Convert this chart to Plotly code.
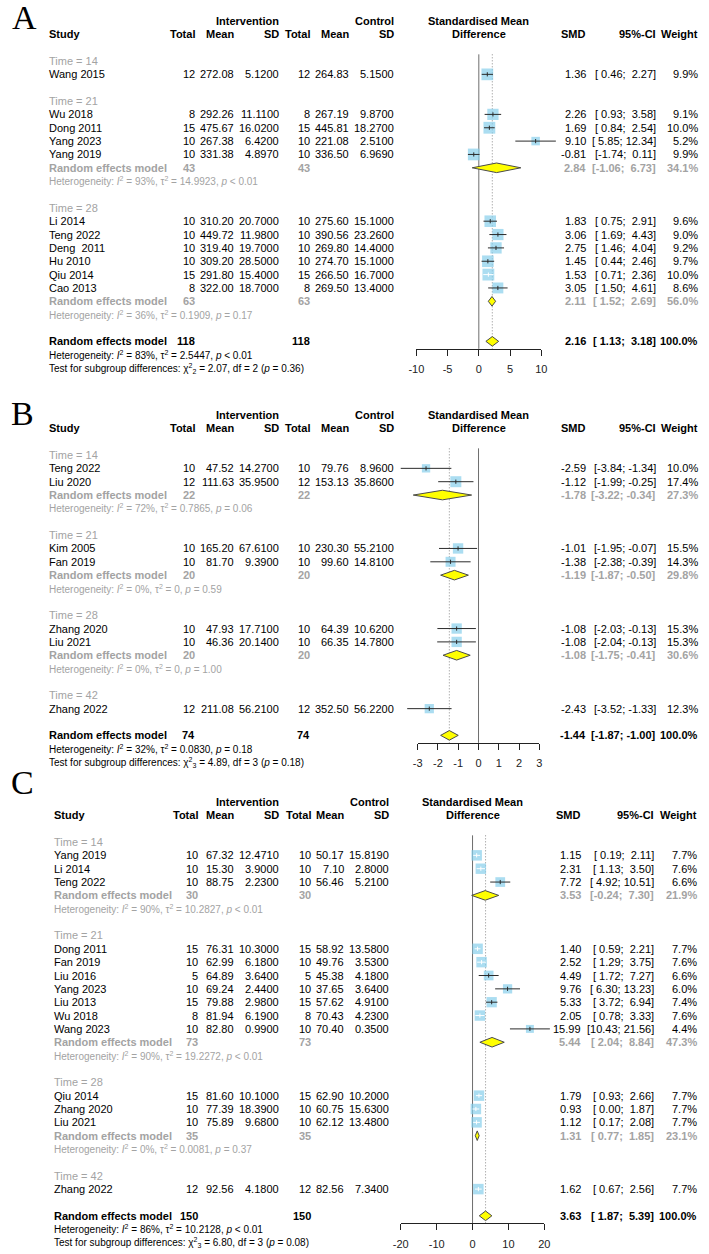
import math
import plotly.graph_objects as go

W, H = 709, 1254

# ---------------- Panel A ----------------
A_groups = ["Time = 14", "Time = 21", "Time = 28"]
A_study = ["Wang 2015", "Wu 2018", "Dong 2011", "Yang 2023", "Yang 2019",
           "Li 2014", "Teng 2022", "Deng  2011", "Hu 2010", "Qiu 2014", "Cao 2013"]
A_group = [0, 1, 1, 1, 1, 2, 2, 2, 2, 2, 2]
A_n_e = [12, 8, 15, 10, 10, 10, 10, 10, 10, 15, 8]
A_mean_e = [272.08, 292.26, 475.67, 267.38, 331.38, 310.20, 449.72, 319.40, 309.20, 291.80, 322.00]
A_sd_e = [5.12, 11.11, 16.02, 6.42, 4.897, 20.70, 11.98, 19.70, 28.50, 15.40, 18.70]
A_n_c = [12, 8, 15, 10, 10, 10, 10, 10, 10, 15, 8]
A_mean_c = [264.83, 267.19, 445.81, 221.08, 336.50, 275.60, 390.56, 269.80, 274.70, 266.50, 269.50]
A_sd_c = [5.15, 9.87, 18.27, 2.51, 6.969, 15.10, 23.26, 14.40, 15.10, 16.70, 13.40]
A_smd = [1.36, 2.26, 1.69, 9.10, -0.81, 1.83, 3.06, 2.75, 1.45, 1.53, 3.05]
A_lo = [0.46, 0.93, 0.84, 5.85, -1.74, 0.75, 1.69, 1.46, 0.44, 0.71, 1.50]
A_hi = [2.27, 3.58, 2.54, 12.34, 0.11, 2.91, 4.43, 4.04, 2.46, 2.36, 4.61]
A_w = [9.9, 9.1, 10.0, 5.2, 9.9, 9.6, 9.0, 9.2, 9.7, 10.0, 8.6]
A_sub_n = [None, 43, 63]
A_sub_smd = [None, 2.84, 2.11]
A_sub_lo = [None, -1.06, 1.52]
A_sub_hi = [None, 6.73, 2.69]
A_sub_w = [None, 34.1, 56.0]
A_sub_i2 = [None, 93, 36]
A_sub_tau2 = [None, "14.9923", "0.1909"]
A_sub_p = [None, "< 0.01", "= 0.17"]
A_tot_n = 118
A_tot_est = [2.16, 1.13, 3.18]
A_tot_het = [83, "2.5447", "< 0.01"]
A_test = ["2", "2.07", "2", "0.36"]
A_ticks = [-10, -5, 0, 5, 10]

# ---------------- Panel B ----------------
B_groups = ["Time = 14", "Time = 21", "Time = 28", "Time = 42"]
B_study = ["Teng 2022", "Liu 2020", "Kim 2005", "Fan 2019", "Zhang 2020", "Liu 2021", "Zhang 2022"]
B_group = [0, 0, 1, 1, 2, 2, 3]
B_n_e = [10, 12, 10, 10, 10, 10, 12]
B_mean_e = [47.52, 111.63, 165.20, 81.70, 47.93, 46.36, 211.08]
B_sd_e = [14.27, 35.95, 67.61, 9.39, 17.71, 20.14, 56.21]
B_n_c = [10, 12, 10, 10, 10, 10, 12]
B_mean_c = [79.76, 153.13, 230.30, 99.60, 64.39, 66.35, 352.50]
B_sd_c = [8.96, 35.86, 55.21, 14.81, 10.62, 14.78, 56.22]
B_smd = [-2.59, -1.12, -1.01, -1.38, -1.08, -1.08, -2.43]
B_lo = [-3.84, -1.99, -1.95, -2.38, -2.03, -2.04, -3.52]
B_hi = [-1.34, -0.25, -0.07, -0.39, -0.13, -0.13, -1.33]
B_w = [10.0, 17.4, 15.5, 14.3, 15.3, 15.3, 12.3]
B_sub_n = [22, 20, 20, None]
B_sub_smd = [-1.78, -1.19, -1.08, None]
B_sub_lo = [-3.22, -1.87, -1.75, None]
B_sub_hi = [-0.34, -0.50, -0.41, None]
B_sub_w = [27.3, 29.8, 30.6, None]
B_sub_i2 = [72, 0, 0, None]
B_sub_tau2 = ["0.7865", "0", "0", None]
B_sub_p = ["= 0.06", "= 0.59", "= 1.00", None]
B_tot_n = 74
B_tot_est = [-1.44, -1.87, -1.00]
B_tot_het = [32, "0.0830", "= 0.18"]
B_test = ["3", "4.89", "3", "0.18"]
B_ticks = [-3, -2, -1, 0, 1, 2, 3]

# ---------------- Panel C ----------------
C_groups = ["Time = 14", "Time = 21", "Time = 28", "Time = 42"]
C_study = ["Yang 2019", "Li 2014", "Teng 2022",
           "Dong 2011", "Fan 2019", "Liu 2016", "Yang 2023", "Liu 2013", "Wu 2018", "Wang 2023",
           "Qiu 2014", "Zhang 2020", "Liu 2021", "Zhang 2022"]
C_group = [0, 0, 0, 1, 1, 1, 1, 1, 1, 1, 2, 2, 2, 3]
C_n_e = [10, 10, 10, 15, 10, 5, 10, 15, 8, 10, 15, 10, 10, 12]
C_mean_e = [67.32, 15.30, 88.75, 76.31, 62.99, 64.89, 69.24, 79.88, 81.94, 82.80, 81.60, 77.39, 75.89, 92.56]
C_sd_e = [12.471, 3.90, 2.23, 10.30, 6.18, 3.64, 2.44, 2.98, 6.19, 0.99, 10.10, 18.39, 9.68, 4.18]
C_n_c = [10, 10, 10, 15, 10, 5, 10, 15, 8, 10, 15, 10, 10, 12]
C_mean_c = [50.17, 7.10, 56.46, 58.92, 49.76, 45.38, 37.65, 57.62, 70.43, 70.40, 62.90, 60.75, 62.12, 82.56]
C_sd_c = [15.819, 2.80, 5.21, 13.58, 3.53, 4.18, 3.64, 4.91, 4.23, 0.35, 10.20, 15.63, 13.48, 7.34]
C_smd = [1.15, 2.31, 7.72, 1.40, 2.52, 4.49, 9.76, 5.33, 2.05, 15.99, 1.79, 0.93, 1.12, 1.62]
C_lo = [0.19, 1.13, 4.92, 0.59, 1.29, 1.72, 6.30, 3.72, 0.78, 10.43, 0.93, 0.00, 0.17, 0.67]
C_hi = [2.11, 3.50, 10.51, 2.21, 3.75, 7.27, 13.23, 6.94, 3.33, 21.56, 2.66, 1.87, 2.08, 2.56]
C_w = [7.7, 7.6, 6.6, 7.7, 7.6, 6.6, 6.0, 7.4, 7.6, 4.4, 7.7, 7.7, 7.7, 7.7]
C_sub_n = [30, 73, 35, None]
C_sub_smd = [3.53, 5.44, 1.31, None]
C_sub_lo = [-0.24, 2.04, 0.77, None]
C_sub_hi = [7.30, 8.84, 1.85, None]
C_sub_w = [21.9, 47.3, 23.1, None]
C_sub_i2 = [90, 90, 0, None]
C_sub_tau2 = ["10.2827", "19.2272", "0.0081", None]
C_sub_p = ["< 0.01", "< 0.01", "= 0.37", None]
C_tot_n = 150
C_tot_est = [3.63, 1.87, 5.39]
C_tot_het = [86, "10.2128", "< 0.01"]
C_test = ["3", "6.80", "3", "0.08"]
C_ticks = [-20, -10, 0, 10, 20]

# ---------------- style ----------------
SANS = "Liberation Sans, Arial, sans-serif"
SERIF = "Liberation Serif, Times New Roman, serif"
GRAY = "#A3A3A3"
SQ_COL = "#87CEEB"
DIA_COL = "#FFFF00"
LINE_COL = "#2b2b2b"
SP = 13.35
FS = 11
FS_SMALL = 10

COLS_AB = dict(study=40.7, ne=192, me=232, se=277, nc=309.5, mc=349, sc=395,
               smd=590.5, ci=662, w=704.5)
COLS_C = dict(study=46, ne=195, me=231.5, se=277, nc=310, mc=343.5, sc=389.5,
              smd=586, ci=660.5, w=703.5)

panels = [
    dict(letter="A", lx=17, ly=17, r0=61, cols=COLS_AB, center=480.3, scale=6.37, sqmax=11.8,
         groups=A_groups, study=A_study, group=A_group, n_e=A_n_e, mean_e=A_mean_e, sd_e=A_sd_e,
         n_c=A_n_c, mean_c=A_mean_c, sd_c=A_sd_c, smd=A_smd, lo=A_lo, hi=A_hi, w=A_w,
         sub_n=A_sub_n, sub_smd=A_sub_smd, sub_lo=A_sub_lo, sub_hi=A_sub_hi, sub_w=A_sub_w,
         sub_i2=A_sub_i2, sub_tau2=A_sub_tau2, sub_p=A_sub_p, tot_n=A_tot_n, tot_est=A_tot_est,
         tot_het=A_tot_het, test=A_test, ticks=A_ticks),
    dict(letter="B", lx=15, ly=413, r0=455, cols=COLS_AB, center=480.0, scale=20.67, sqmax=11.0,
         groups=B_groups, study=B_study, group=B_group, n_e=B_n_e, mean_e=B_mean_e, sd_e=B_sd_e,
         n_c=B_n_c, mean_c=B_mean_c, sd_c=B_sd_c, smd=B_smd, lo=B_lo, hi=B_hi, w=B_w,
         sub_n=B_sub_n, sub_smd=B_sub_smd, sub_lo=B_sub_lo, sub_hi=B_sub_hi, sub_w=B_sub_w,
         sub_i2=B_sub_i2, sub_tau2=B_sub_tau2, sub_p=B_sub_p, tot_n=B_tot_n, tot_est=B_tot_est,
         tot_het=B_tot_het, test=B_test, ticks=B_ticks),
    dict(letter="C", lx=15, ly=782, r0=842, cols=COLS_C, center=473.9, scale=3.66, sqmax=10.5,
         groups=C_groups, study=C_study, group=C_group, n_e=C_n_e, mean_e=C_mean_e, sd_e=C_sd_e,
         n_c=C_n_c, mean_c=C_mean_c, sd_c=C_sd_c, smd=C_smd, lo=C_lo, hi=C_hi, w=C_w,
         sub_n=C_sub_n, sub_smd=C_sub_smd, sub_lo=C_sub_lo, sub_hi=C_sub_hi, sub_w=C_sub_w,
         sub_i2=C_sub_i2, sub_tau2=C_sub_tau2, sub_p=C_sub_p, tot_n=C_tot_n, tot_est=C_tot_est,
         tot_het=C_tot_het, test=C_test, ticks=C_ticks),
]

fig = go.Figure()
annotations = []


def esc(s):
    return s.replace("<", "&lt;")


def ann(x, y, text, anchor="right", size=FS, color="black", bold=False, family=SANS):
    if bold:
        text = "<b>" + text + "</b>"
    annotations.append(dict(x=x / W, xref="paper", y=y, yref="y", text=text, showarrow=False,
                            xanchor=anchor, align=anchor, yanchor="middle", borderpad=0,
                            font=dict(size=size, color=color, family=family)))


def het_text(i2, tau2, p):
    return ("Heterogeneity: <i>I</i><sup>2</sup> = %d%%, τ<sup>2</sup> = %s, <i>p</i> %s"
            % (i2, tau2, esc(p)))


def ci_text(lo, hi):
    return "[%5.2f; %5.2f]" % (lo, hi)


layout_axes = {}

for pi, P in enumerate(panels):
    c = P["cols"]
    xd = "x" if pi == 0 else "x%d" % (pi + 1)
    xdisp = "x%d" % (pi + 4)
    center, scale = P["center"], P["scale"]
    r0 = P["r0"]

    def ry(i):
        return r0 + SP * i

    ann(P["lx"], P["ly"], P["letter"], anchor="center", size=34, family=SERIF)

    h1, h2 = ry(-3), ry(-2)
    ann(c["se"], h1, "Intervention", bold=True)
    ann(c["sc"], h1, "Control", bold=True)
    ann(center, h1, "Standardised Mean", anchor="center", bold=True)
    ann(c["study"], h2, "Study", anchor="left", bold=True)
    for key, lab in [("ne", "Total"), ("me", "Mean"), ("se", "SD"),
                     ("nc", "Total"), ("mc", "Mean"), ("sc", "SD"),
                     ("smd", "SMD"), ("ci", "95%-CI"), ("w", "Weight")]:
        ann(c[key], h2, lab, bold=True)
    ann(center, h2, "Difference", anchor="center", bold=True)

    study_y = [None] * len(P["study"])
    dia_x, dia_y = [], []
    i = 0
    for g, glab in enumerate(P["groups"]):
        ann(c["study"], ry(i), glab, anchor="left", color=GRAY)
        i += 1
        for k in range(len(P["study"])):
            if P["group"][k] != g:
                continue
            y = ry(i)
            study_y[k] = y
            ann(c["study"], y, P["study"][k], anchor="left")
            ann(c["ne"], y, str(P["n_e"][k]))
            ann(c["me"], y, "%.2f" % P["mean_e"][k])
            ann(c["se"], y, "%.4f" % P["sd_e"][k])
            ann(c["nc"], y, str(P["n_c"][k]))
            ann(c["mc"], y, "%.2f" % P["mean_c"][k])
            ann(c["sc"], y, "%.4f" % P["sd_c"][k])
            ann(c["smd"], y, "%.2f" % P["smd"][k])
            ann(c["ci"], y, ci_text(P["lo"][k], P["hi"][k]))
            ann(c["w"], y, "%.1f%%" % P["w"][k])
            i += 1
        if P["sub_smd"][g] is not None:
            y = ry(i)
            ann(c["study"], y, "Random effects model", anchor="left", color=GRAY, bold=True)
            ann(c["ne"], y, str(P["sub_n"][g]), color=GRAY, bold=True)
            ann(c["nc"], y, str(P["sub_n"][g]), color=GRAY, bold=True)
            ann(c["smd"], y, "%.2f" % P["sub_smd"][g], color=GRAY, bold=True)
            ann(c["ci"], y, ci_text(P["sub_lo"][g], P["sub_hi"][g]), color=GRAY, bold=True)
            ann(c["w"], y, "%.1f%%" % P["sub_w"][g], color=GRAY, bold=True)
            e, lo, hi = P["sub_smd"][g], P["sub_lo"][g], P["sub_hi"][g]
            dia_x += [lo, e, hi, e, lo, None]
            dia_y += [y, y - 4.8, y, y + 4.8, y, None]
            i += 1
            ann(c["study"], ry(i),
                het_text(P["sub_i2"][g], P["sub_tau2"][g], P["sub_p"][g]),
                anchor="left", color=GRAY, size=FS_SMALL)
            i += 1
        i += 1

    yo = ry(i)
    e, lo, hi = P["tot_est"]
    ann(c["study"], yo, "Random effects model", anchor="left", bold=True)
    ann(c["ne"], yo, str(P["tot_n"]), bold=True)
    ann(c["nc"], yo, str(P["tot_n"]), bold=True)
    ann(c["smd"], yo, "%.2f" % e, bold=True)
    ann(c["ci"], yo, ci_text(lo, hi), bold=True)
    ann(c["w"], yo, "100.0%", bold=True)
    dia_x += [lo, e, hi, e, lo, None]
    dia_y += [yo, yo - 4.8, yo, yo + 4.8, yo, None]
    ann(c["study"], ry(i + 1), het_text(*P["tot_het"]), anchor="left", size=FS_SMALL)
    t = P["test"]
    ann(c["study"], ry(i + 2),
        "Test for subgroup differences: χ<sup>2</sup><sub>%s</sub> = %s, df = %s (<i>p</i> = %s)"
        % (t[0], t[1], t[2], t[3]), anchor="left", size=FS_SMALL)

    axis_y = yo + 7.5
    top_y = r0 - SP * 0.5

    fig.add_trace(go.Scatter(x=[0, 0], y=[top_y, axis_y], mode="lines",
                             line=dict(color="#6e6e6e", width=1),
                             xaxis=xd, yaxis="y", hoverinfo="skip", showlegend=False))
    fig.add_trace(go.Scatter(x=[e, e], y=[top_y, axis_y], mode="lines",
                             line=dict(color="#8a8a8a", width=1, dash="1px,2px"),
                             xaxis=xd, yaxis="y", hoverinfo="skip", showlegend=False))

    wmax = max(P["w"])
    sizes = [P["sqmax"] * math.sqrt(w / wmax) for w in P["w"]]
    fig.add_trace(go.Scatter(x=P["smd"], y=study_y, mode="markers",
                             marker=dict(symbol="square", size=sizes, color=SQ_COL,
                                         line=dict(width=0)),
                             xaxis=xd, yaxis="y", hoverinfo="skip", showlegend=False,
                             cliponaxis=False))

    # CI drawn white when it lies well inside the square, dark otherwise
    for col, inside in [(LINE_COL, False), ("white", True)]:
        lx, ly, mx, my = [], [], [], []
        for k in range(len(P["study"])):
            width_px = (P["hi"][k] - P["lo"][k]) * scale
            if (width_px < sizes[k] - 1.0) != inside:
                continue
            lx += [P["lo"][k], P["hi"][k], None]
            ly += [study_y[k], study_y[k], None]
            mx.append(P["smd"][k])
            my.append(study_y[k])
        if lx:
            fig.add_trace(go.Scatter(x=lx, y=ly, mode="lines", line=dict(color=col, width=1),
                                     xaxis=xd, yaxis="y", hoverinfo="skip", showlegend=False))
            fig.add_trace(go.Scatter(x=mx, y=my, mode="markers",
                                     marker=dict(symbol="line-ns", size=3,
                                                 line=dict(color=col, width=1)),
                                     xaxis=xd, yaxis="y", hoverinfo="skip", showlegend=False))

    fig.add_trace(go.Scatter(x=dia_x, y=dia_y, mode="lines", fill="toself",
                             fillcolor=DIA_COL, line=dict(color="#4a4a4a", width=1),
                             xaxis=xd, yaxis="y", hoverinfo="skip", showlegend=False))

    fig.add_trace(go.Scatter(x=P["ticks"], y=[axis_y] * len(P["ticks"]), mode="markers",
                             marker=dict(opacity=0, size=1), xaxis=xdisp, yaxis="y",
                             hoverinfo="skip", showlegend=False))

    tk = P["ticks"]
    layout_axes["xaxis" if pi == 0 else "xaxis%d" % (pi + 1)] = dict(
        domain=[0, 1], range=[(0 - center) / scale, (W - center) / scale],
        visible=False, fixedrange=True)
    layout_axes["xaxis%d" % (pi + 4)] = dict(
        domain=[(center + scale * tk[0]) / W, (center + scale * tk[-1]) / W],
        range=[tk[0], tk[-1]], tickvals=tk, ticktext=[str(v) for v in tk],
        anchor="free", position=1 - axis_y / H, showline=True, linecolor="#222222",
        linewidth=1, ticks="outside", ticklen=6, tickcolor="#222222", tickwidth=1,
        showgrid=False, zeroline=False, ticklabelstandoff=4,
        tickfont=dict(size=FS, family=SANS, color="#222222"), fixedrange=True)

fig.update_layout(
    width=W, height=H, margin=dict(l=0, r=0, t=0, b=0),
    paper_bgcolor="white", plot_bgcolor="rgba(0,0,0,0)",
    yaxis=dict(domain=[0, 1], range=[H, 0], visible=False, fixedrange=True),
    annotations=annotations, showlegend=False,
    **layout_axes,
)

fig.write_html("out.html", config={"displayModeBar": False},
               post_script="document.body.style.margin='0px';")
